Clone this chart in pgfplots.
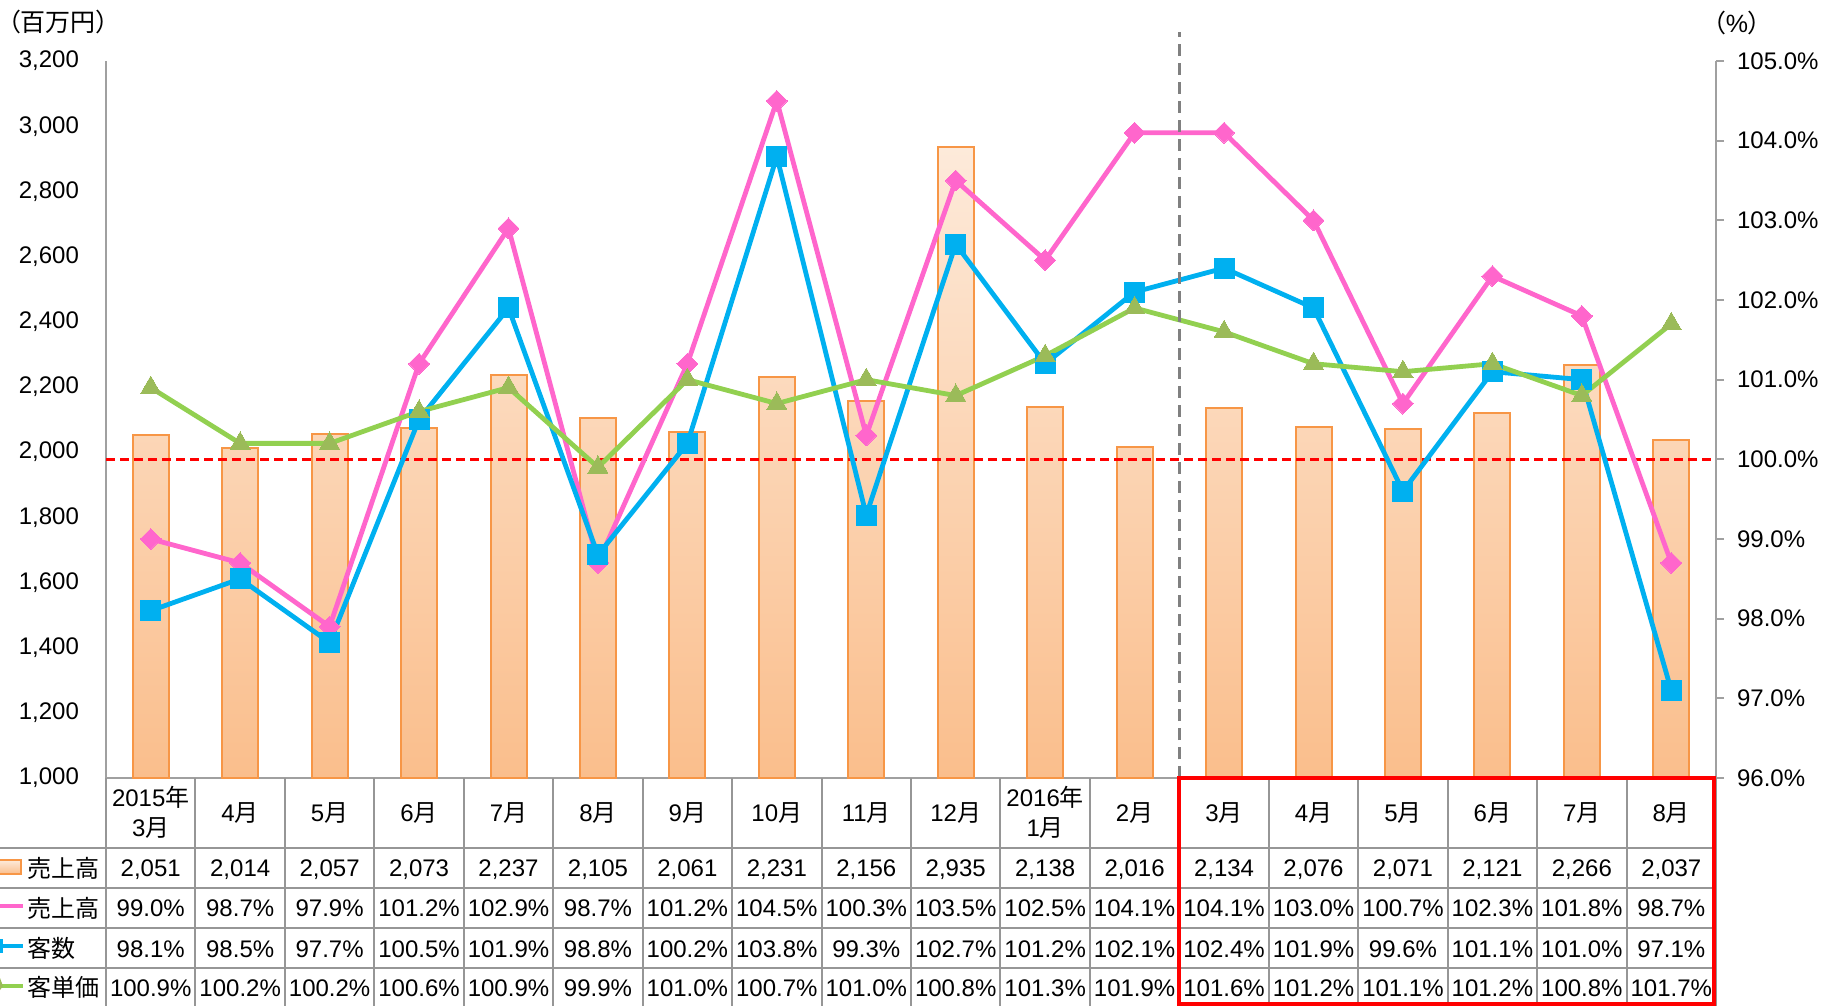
\documentclass[border=0pt]{standalone}
\usepackage{pgfplots}
\usepackage{pgfplotstable}
\pgfplotsset{compat=1.18}
\usepackage{fontspec}
\setmainfont{Liberation Sans}
\newfontfamily\jp{Noto Sans CJK JP}
\newfontfamily\jpp[RawFeature=+palt]{Noto Sans CJK JP}
\pgfkeys{/pgf/number format/assume math mode=true}
\definecolor{pinkL}{RGB}{255,102,204}
\definecolor{blueL}{RGB}{0,176,240}
\definecolor{greenL}{RGB}{146,208,80}
\definecolor{greenM}{RGB}{155,187,89}
\definecolor{barEdge}{RGB}{247,150,70}
\definecolor{barTop}{RGB}{253,234,218}
\definecolor{barMid}{RGB}{250,190,140}
\definecolor{gridG}{RGB}{150,150,150}
\definecolor{axG}{RGB}{160,160,160}
\definecolor{dashG}{RGB}{128,128,128}

\pgfplotstableread{
i sales yoy cust unit
0 2051 99.0 98.1 100.9
1 2014 98.7 98.5 100.2
2 2057 97.9 97.7 100.2
3 2073 101.2 100.5 100.6
4 2237 102.9 101.9 100.9
5 2105 98.7 98.8 99.9
6 2061 101.2 100.2 101.0
7 2231 104.5 103.8 100.7
8 2156 100.3 99.3 101.0
9 2935 103.5 102.7 100.8
10 2138 102.5 101.2 101.3
11 2016 104.1 102.1 101.9
12 2134 104.1 102.4 101.6
13 2076 103.0 101.9 101.2
14 2071 100.7 99.6 101.1
15 2121 102.3 101.1 101.2
16 2266 101.8 101.0 100.8
17 2037 98.7 97.1 101.7
}\data

\def\cw{44.7222pt}

\begin{document}
\begin{tikzpicture}[font=\fontsize{12}{14}\selectfont]
\useasboundingbox (-53pt,-114pt) rectangle (858.5pt,389pt);

% ---------- left axis: bars ----------
\begin{axis}[
  at={(0pt,0pt)}, anchor=south west,
  scale only axis, width=805pt, height=358.5pt,
  xmin=-0.5, xmax=17.5, ymin=1000, ymax=3200,
  ytick={1000,1200,...,3200},
  axis y line*=left, axis x line*=bottom,
  axis line style={axG, line width=1pt, -},
  xtick=\empty,
  y tick style={draw=none},
  /pgf/number format/1000 sep={,},
  /pgf/number format/fixed,
  tick label style={font=\fontsize{12}{14}\selectfont},
  yticklabel style={xshift=-10pt},
]
\addplot[ybar, bar width=18pt, draw=barEdge, line width=1pt,
  top color=barTop, bottom color=barMid] table[x=i,y=sales]{\data};
\end{axis}

% ---------- right axis: lines ----------
\begin{axis}[
  at={(0pt,0pt)}, anchor=south west,
  scale only axis, width=805pt, height=358.5pt,
  xmin=-0.5, xmax=17.5, ymin=96, ymax=105,
  ytick={96,97,...,105},
  axis y line*=right, axis x line=none,
  axis line style={axG, line width=1pt, -},
  y tick style={axG, line width=1pt},
  tick align=outside, major tick length=4pt,
  xtick=\empty,
  yticklabel={\pgfmathprintnumber[fixed,fixed zerofill,precision=1]{\tick}\%},
  tick label style={font=\fontsize{12}{14}\selectfont},
  yticklabel style={xshift=3pt},
  clip=false,
]
\addplot[red, line width=1.2pt, dash pattern=on 4.5pt off 2.5pt] coordinates {(-0.5,100) (17.5,100)};
\addplot[pinkL, line width=2.4pt, mark=square*, mark size=3.7pt,
  mark options={rotate=45, fill=pinkL, draw=pinkL, line width=0pt, solid}] table[x=i,y=yoy]{\data};
\addplot[blueL, line width=2.4pt, mark=square*, mark size=5pt,
  mark options={fill=blueL, draw=blueL, line width=0pt}] table[x=i,y=cust]{\data};
\addplot[greenL, line width=2.4pt, mark=triangle*, mark size=5.8pt,
  mark options={fill=greenM, draw=greenM, line width=0pt}] table[x=i,y=unit]{\data};
\addplot[dashG, line width=1.5pt, dash pattern=on 6pt off 3.5pt] coordinates {(11.5,96) (11.5,105.36)};
\end{axis}

% ---------- units ----------
\node[anchor=west, inner sep=0pt] at (-49pt,378pt) {\fontsize{12.5}{14}\selectfont\jpp （百万円）};
\node[anchor=west, inner sep=0pt] at (803.5pt,377.5pt) {\fontsize{12.5}{14}\selectfont{\jpp （}\%{\jpp ）}};

% ---------- table grid ----------
\foreach \y in {-35,-55,-75,-95}
  \draw[gridG, line width=1pt] (-53pt,\y pt) -- (805pt,\y pt);
\foreach \k in {0,...,18}
  \draw[gridG, line width=1pt] ({\k*\cw},0pt) -- ({\k*\cw},-114pt);

% header
\node[anchor=base, inner sep=0pt] at ({0.5*\cw},-14.3pt) {2015{\jp 年}};
\node[anchor=base, inner sep=0pt] at ({0.5*\cw},-29.3pt) {3{\jp 月}};
\node[anchor=base, inner sep=0pt] at ({10.5*\cw},-14.3pt) {2016{\jp 年}};
\node[anchor=base, inner sep=0pt] at ({10.5*\cw},-29.3pt) {1{\jp 月}};
\foreach \k/\m in {1/4,2/5,3/6,4/7,5/8,6/9,7/10,8/11,9/12,11/2,12/3,13/4,14/5,15/6,16/7,17/8}
  \node[anchor=base, inner sep=0pt] at ({(\k+0.5)*\cw},-21.8pt) {\m{\jp 月}};

% data rows
\foreach \k in {0,...,17}{
  \pgfplotstablegetelem{\k}{sales}\of\data \let\vs\pgfplotsretval
  \node[anchor=base, inner sep=0pt] at ({(\k+0.5)*\cw},-49.3pt) {\pgfmathprintnumber[1000 sep={,}]{\vs}};
  \pgfplotstablegetelem{\k}{yoy}\of\data \let\vy\pgfplotsretval
  \node[anchor=base, inner sep=0pt] at ({(\k+0.5)*\cw},-69.3pt) {\pgfmathprintnumber[fixed,fixed zerofill,precision=1]{\vy}\%};
  \pgfplotstablegetelem{\k}{cust}\of\data \let\vc\pgfplotsretval
  \node[anchor=base, inner sep=0pt] at ({(\k+0.5)*\cw},-89.5pt) {\pgfmathprintnumber[fixed,fixed zerofill,precision=1]{\vc}\%};
  \pgfplotstablegetelem{\k}{unit}\of\data \let\vu\pgfplotsretval
  \node[anchor=base, inner sep=0pt] at ({(\k+0.5)*\cw},-109pt) {\pgfmathprintnumber[fixed,fixed zerofill,precision=1]{\vu}\%};
}

% row labels with legend keys
\draw[barEdge, line width=1pt, top color=barTop, bottom color=barMid] (-56pt,-41pt) rectangle (-42.5pt,-48pt);
\node[anchor=base west, inner sep=0pt] at (-39.5pt,-49.5pt) {\jp 売上高};
\draw[pinkL, line width=2.3pt] (-53pt,-64pt) -- (-41.5pt,-64pt);
\node[anchor=base west, inner sep=0pt] at (-39.5pt,-69.5pt) {\jp 売上高};
\draw[blueL, line width=2.3pt] (-53pt,-84pt) -- (-41.5pt,-84pt);
\fill[blueL] (-58pt,-80.5pt) rectangle (-51.5pt,-87.5pt);
\node[anchor=base west, inner sep=0pt] at (-39.5pt,-89.7pt) {\jp 客数};
\draw[greenL, line width=2.3pt] (-53pt,-104pt) -- (-41.5pt,-104pt);
\fill[greenM] (-53pt,-100pt) -- (-51.5pt,-104pt) -- (-53pt,-106pt) -- cycle;
\node[anchor=base west, inner sep=0pt] at (-39.5pt,-109.2pt) {\jp 客単価};

% red box
\draw[red, line width=2pt] ({12*\cw},0pt) rectangle (804pt,-113pt);
\end{tikzpicture}
\end{document}
